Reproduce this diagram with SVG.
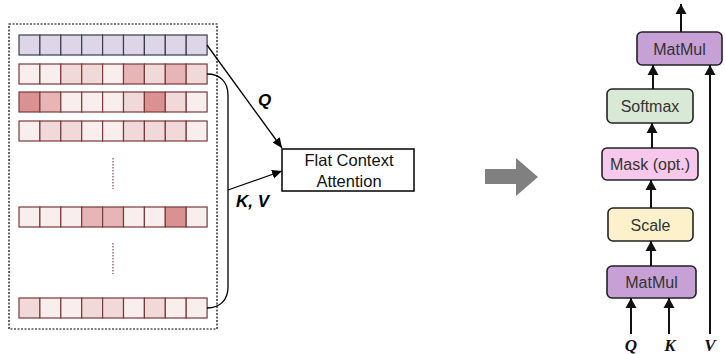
<svg xmlns="http://www.w3.org/2000/svg" width="725" height="354" viewBox="0 0 725 354">
  <defs>
    <marker id="ah" markerWidth="10" markerHeight="10" viewBox="0 0 10 10" refX="10" refY="5" orient="auto" markerUnits="userSpaceOnUse">
      <path d="M0,0.5 L10,5 L0,9.5 Z" fill="#000"/>
    </marker>
    <marker id="ahs" markerWidth="10" markerHeight="12" viewBox="0 0 10 12" refX="10" refY="6" orient="auto" markerUnits="userSpaceOnUse">
      <path d="M0,0.5 L10,6 L0,11.5 Z" fill="#111"/>
    </marker>
  </defs>
  <style>
    .cell { stroke: #7a3a3a; stroke-width: 1.2; }
    .q { fill: #dcd6e6; stroke: #3d3d4a; stroke-width: 1.2; }
    .vl { fill: #f9eeee; }
    .l { fill: #f1d9d9; }
    .m { fill: #e7b5b5; }
    .d { fill: #d99191; }
    .conn { fill: none; stroke: #000; stroke-width: 1.3; }
    .sconn { fill: none; stroke: #111; stroke-width: 2; }
    .node { stroke: #222; stroke-width: 1.6; }
    .lbl { font-family: "Liberation Sans", Arial, sans-serif; font-size: 16px; fill: #333; text-anchor: middle; }
    .sym { font-family: "Liberation Sans", Arial, sans-serif; font-size: 17px; font-weight: bold; font-style: italic; fill: #000; }
    .ser { font-family: "Liberation Serif", "Times New Roman", serif; font-size: 17px; font-weight: bold; font-style: italic; fill: #111; text-anchor: middle; }
  </style>

  <!-- sequence panel -->
  <g id="sequence">
    <rect x="9" y="24" width="208" height="305" fill="none" stroke="#000" stroke-width="1.2" stroke-dasharray="2,1.5"/>
    <!-- query row -->
    <g id="row-q">
      <rect class="q" x="19" y="35" width="20.9" height="20"/>
      <rect class="q" x="39.9" y="35" width="20.9" height="20"/>
      <rect class="q" x="60.8" y="35" width="20.9" height="20"/>
      <rect class="q" x="81.7" y="35" width="20.9" height="20"/>
      <rect class="q" x="102.6" y="35" width="20.9" height="20"/>
      <rect class="q" x="123.5" y="35" width="20.9" height="20"/>
      <rect class="q" x="144.4" y="35" width="20.9" height="20"/>
      <rect class="q" x="165.3" y="35" width="20.9" height="20"/>
      <rect class="q" x="186.2" y="35" width="20.9" height="20"/>
    </g>
    <g id="row-1">
      <rect class="cell vl" x="19" y="64" width="20.9" height="20"/>
      <rect class="cell vl" x="39.9" y="64" width="20.9" height="20"/>
      <rect class="cell l" x="60.8" y="64" width="20.9" height="20"/>
      <rect class="cell l" x="81.7" y="64" width="20.9" height="20"/>
      <rect class="cell vl" x="102.6" y="64" width="20.9" height="20"/>
      <rect class="cell m" x="123.5" y="64" width="20.9" height="20"/>
      <rect class="cell l" x="144.4" y="64" width="20.9" height="20"/>
      <rect class="cell m" x="165.3" y="64" width="20.9" height="20"/>
      <rect class="cell l" x="186.2" y="64" width="20.9" height="20"/>
    </g>
    <g id="row-2">
      <rect class="cell d" x="19" y="92" width="20.9" height="20"/>
      <rect class="cell m" x="39.9" y="92" width="20.9" height="20"/>
      <rect class="cell vl" x="60.8" y="92" width="20.9" height="20"/>
      <rect class="cell vl" x="81.7" y="92" width="20.9" height="20"/>
      <rect class="cell vl" x="102.6" y="92" width="20.9" height="20"/>
      <rect class="cell l" x="123.5" y="92" width="20.9" height="20"/>
      <rect class="cell d" x="144.4" y="92" width="20.9" height="20"/>
      <rect class="cell l" x="165.3" y="92" width="20.9" height="20"/>
      <rect class="cell vl" x="186.2" y="92" width="20.9" height="20"/>
    </g>
    <g id="row-3">
      <rect class="cell vl" x="19" y="121" width="20.9" height="20"/>
      <rect class="cell l" x="39.9" y="121" width="20.9" height="20"/>
      <rect class="cell l" x="60.8" y="121" width="20.9" height="20"/>
      <rect class="cell vl" x="81.7" y="121" width="20.9" height="20"/>
      <rect class="cell vl" x="102.6" y="121" width="20.9" height="20"/>
      <rect class="cell l" x="123.5" y="121" width="20.9" height="20"/>
      <rect class="cell l" x="144.4" y="121" width="20.9" height="20"/>
      <rect class="cell l" x="165.3" y="121" width="20.9" height="20"/>
      <rect class="cell vl" x="186.2" y="121" width="20.9" height="20"/>
    </g>
    <line x1="113" y1="158" x2="113" y2="189" stroke="#8a4a4a" stroke-width="1.2" stroke-dasharray="1.5,1.5"/>
    <g id="row-4">
      <rect class="cell vl" x="19" y="207" width="20.9" height="20"/>
      <rect class="cell vl" x="39.9" y="207" width="20.9" height="20"/>
      <rect class="cell vl" x="60.8" y="207" width="20.9" height="20"/>
      <rect class="cell m" x="81.7" y="207" width="20.9" height="20"/>
      <rect class="cell m" x="102.6" y="207" width="20.9" height="20"/>
      <rect class="cell vl" x="123.5" y="207" width="20.9" height="20"/>
      <rect class="cell vl" x="144.4" y="207" width="20.9" height="20"/>
      <rect class="cell d" x="165.3" y="207" width="20.9" height="20"/>
      <rect class="cell vl" x="186.2" y="207" width="20.9" height="20"/>
    </g>
    <line x1="113" y1="243" x2="113" y2="274" stroke="#8a4a4a" stroke-width="1.2" stroke-dasharray="1.5,1.5"/>
    <g id="row-5">
      <rect class="cell l" x="19" y="298" width="20.9" height="20"/>
      <rect class="cell vl" x="39.9" y="298" width="20.9" height="20"/>
      <rect class="cell vl" x="60.8" y="298" width="20.9" height="20"/>
      <rect class="cell l" x="81.7" y="298" width="20.9" height="20"/>
      <rect class="cell l" x="102.6" y="298" width="20.9" height="20"/>
      <rect class="cell vl" x="123.5" y="298" width="20.9" height="20"/>
      <rect class="cell l" x="144.4" y="298" width="20.9" height="20"/>
      <rect class="cell vl" x="165.3" y="298" width="20.9" height="20"/>
      <rect class="cell vl" x="186.2" y="298" width="20.9" height="20"/>
    </g>
  </g>

  <g id="flat-attention">
    <rect x="282" y="149" width="132" height="42" fill="#fff" stroke="#000" stroke-width="1.5"/>
    <text x="349" y="166" font-family="Liberation Sans, Arial, sans-serif" font-size="16.5" text-anchor="middle" fill="#111">Flat Context</text>
    <text x="349" y="187" font-family="Liberation Sans, Arial, sans-serif" font-size="16.5" text-anchor="middle" fill="#111">Attention</text>
  </g>

  <!-- left connectors -->
  <g id="connectors-left">
    <path class="conn" d="M207,74 C220,74 228,82 228,95 L228,287 C228,300 220,308 207,308"/>
    <line class="conn" x1="207" y1="45" x2="282" y2="148" marker-end="url(#ah)"/>
    <line class="conn" x1="228" y1="190" x2="282" y2="171" marker-end="url(#ah)"/>
    <text class="sym" x="258" y="106">Q</text>
    <text class="sym" x="236" y="207">K, V</text>
  </g>

  <!-- transition arrow -->
  <polygon points="485,169 516,169 516,158 538,177 516,196 516,184 485,184" fill="#808080"/>

  <!-- scaled dot-product attention -->
  <g id="matmul-top">
    <rect class="node" x="637" y="32" width="85" height="33" rx="5" fill="#c7a0d5"/>
    <text class="lbl" x="679.5" y="54.5">MatMul</text>
  </g>
  <g id="softmax">
    <rect class="node" x="607" y="89" width="86" height="34" rx="5" fill="#d8ead6"/>
    <text class="lbl" x="650" y="111.5">Softmax</text>
  </g>
  <g id="mask">
    <rect class="node" x="602" y="148" width="96" height="32" rx="5" fill="#f7c8eb"/>
    <text class="lbl" x="650" y="169.5">Mask (opt.)</text>
  </g>
  <g id="scale">
    <rect class="node" x="608" y="208" width="85" height="33" rx="5" fill="#fdf1cc"/>
    <text class="lbl" x="650.5" y="230.5">Scale</text>
  </g>
  <g id="matmul-bottom">
    <rect class="node" x="607" y="266" width="89" height="32" rx="5" fill="#c7a0d5"/>
    <text class="lbl" x="651.5" y="287.5">MatMul</text>
  </g>

  <g id="connectors-right">
    <line class="sconn" x1="681" y1="32" x2="681" y2="4" marker-end="url(#ahs)"/>
    <line class="sconn" x1="653" y1="89" x2="653" y2="65" marker-end="url(#ahs)"/>
    <line class="sconn" x1="652" y1="148" x2="652" y2="123" marker-end="url(#ahs)"/>
    <line class="sconn" x1="651" y1="208" x2="651" y2="180" marker-end="url(#ahs)"/>
    <line class="sconn" x1="651" y1="266" x2="651" y2="241" marker-end="url(#ahs)"/>
    <line class="sconn" x1="631" y1="334" x2="631" y2="298" marker-end="url(#ahs)"/>
    <line class="sconn" x1="669" y1="334" x2="669" y2="298" marker-end="url(#ahs)"/>
    <line class="sconn" x1="710" y1="334" x2="710" y2="65" marker-end="url(#ahs)"/>
    <text class="ser" x="631" y="351">Q</text>
    <text class="ser" x="670" y="351">K</text>
    <text class="ser" x="710" y="351">V</text>
  </g>
</svg>
